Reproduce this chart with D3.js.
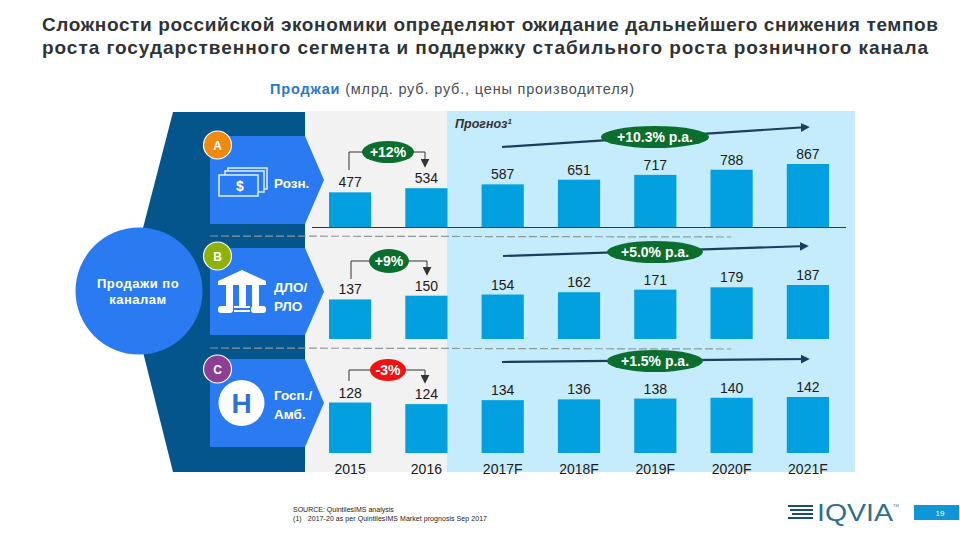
<!DOCTYPE html>
<html>
<head>
<meta charset="utf-8">
<script src="https://cdn.jsdelivr.net/npm/d3@7"></script>
<style>
  html, body { margin: 0; padding: 0; background: #fff; }
  text { font-family: "Liberation Sans", Arial, sans-serif; }
</style>
</head>
<body>
<div id="main"></div>
<script>
const years = ["2015", "2016", "2017F", "2018F", "2019F", "2020F", "2021F"]
const retail = [477, 534, 587, 651, 717, 788, 867]
const dlo = [137, 150, 154, 162, 171, 179, 187]
const hospital = [128, 124, 134, 136, 138, 140, 142]
const titleLines = [
  "Сложности российской экономики определяют ожидание дальнейшего снижения темпов",
  "роста государственного сегмента и поддержку стабильного роста розничного канала"
]
const historyGrowth = ["+12%", "+9%", "-3%"]
const forecastGrowth = ["+10.3% p.a.", "+5.0% p.a.", "+1.5% p.a."]
const channelLetters = ["A", "B", "C"]
const channelLabels = [["Розн."], ["ДЛО/", "РЛО"], ["Госп./", "Амб."]]

const width = 960
const height = 540

const svg = d3.select("#main").append("svg")
  .attr("width", width)
  .attr("height", height)
  .attr("viewBox", `0 0 ${width} ${height}`)
  .style("display", "block")

const blue = "#2a7bf2"
const navy = "#04558c"
const barColor = "#03a0e0"
const pillGreen = "#0c6e2e"
const arrowDark = "#1d3c5e"

svg.append("defs").selectAll("marker")
  .data([["headDark", arrowDark], ["headGrey", "#333"]])
  .join("marker")
  .attr("id", d => d[0])
  .attr("viewBox", "0 0 10 10")
  .attr("refX", 8).attr("refY", 5)
  .attr("markerUnits", "userSpaceOnUse")
  .attr("markerWidth", 9).attr("markerHeight", 9)
  .attr("orient", "auto")
  .append("path")
  .attr("d", "M0,0L10,5L0,10Z")
  .attr("fill", d => d[1])

// TITLE
svg.selectAll("text.title")
  .data(titleLines)
  .join("text")
  .attr("class", "title")
  .attr("x", 42)
  .attr("y", (d, i) => 30.5 + i * 23.5)
  .attr("textLength", (d, i) => i == 0 ? 896 : 886)
  .attr("lengthAdjust", "spacing")
  .attr("font-size", 19)
  .attr("font-weight", "bold")
  .attr("fill", "#2f3336")
  .text(d => d)

const subtitle = svg.append("text")
  .attr("x", 270).attr("y", 94)
  .attr("textLength", 364)
  .attr("font-size", 14.5)
  .attr("fill", "#4a4f55")
subtitle.append("tspan").attr("font-weight", "bold").attr("fill", "#2a78c8").text("Проджаи")
subtitle.append("tspan").text(" (млрд. руб. руб., цены производителя)")

// BACKGROUNDS
svg.append("rect").attr("x", 305).attr("y", 111).attr("width", 142).attr("height", 361).attr("fill", "#f2f2f2")
svg.append("rect").attr("x", 447).attr("y", 111).attr("width", 408).attr("height", 361).attr("fill", "#c4ecfd")

svg.append("path")
  .attr("d", "M173,112L305,112L305,472L173,472L143,352L143,228Z")
  .attr("fill", navy)

svg.append("circle")
  .attr("cx", 139).attr("cy", 291).attr("r", 63.5)
  .attr("fill", blue)

svg.append("text")
  .attr("text-anchor", "middle").attr("fill", "#fff").attr("font-size", 13).attr("font-weight", "bold")
  .attr("letter-spacing", 0.5)
  .selectAll("tspan")
  .data(["Продажи по", "каналам"])
  .join("tspan")
  .attr("x", 138)
  .attr("y", (d, i) => 288 + i * 16)
  .text(d => d)

// CHEVRONS, ONE PER CHANNEL
const panels = [
  { values: retail, base: 227, top: 164, chevTop: 136, chevBottom: 224, badge: 145, badgeColor: "#f0890f", labelY: 188 },
  { values: dlo, base: 339, top: 285, chevTop: 248, chevBottom: 335, badge: 256, badgeColor: "#8fb208", labelY: 292 },
  { values: hospital, base: 453, top: 397, chevTop: 359, chevBottom: 447, badge: 369, badgeColor: "#8c3f94", labelY: 400 }
]

panels.forEach((p, i) => {
  const mid = (p.chevTop + p.chevBottom) / 2
  svg.append("path")
    .attr("d", `M210,${p.chevTop}L305,${p.chevTop}L324,${mid}L305,${p.chevBottom}L210,${p.chevBottom}Z`)
    .attr("fill", blue)
})

// SEPARATORS
svg.selectAll("line.sep")
  .data([236, 348])
  .join("line")
  .attr("class", "sep")
  .attr("x1", 210).attr("x2", 731)
  .attr("y1", d => d).attr("y2", d => d + 1)
  .attr("stroke", "#8d989f")
  .attr("stroke-width", 1.2)
  .attr("stroke-dasharray", "8 3")

// ICONS
const money = svg.append("g").attr("fill", blue).attr("stroke", "#dff1ff").attr("stroke-width", 1.5)
money.selectAll("rect")
  .data([[228, 168], [225, 171], [219, 175]])
  .join("rect")
  .attr("x", d => d[0]).attr("y", d => d[1])
  .attr("width", 39).attr("height", 21)
svg.append("text").attr("x", 240).attr("y", 191).attr("text-anchor", "middle")
  .attr("font-size", 14).attr("font-weight", "bold").attr("fill", "#fff").text("$")

const bank = svg.append("g").attr("fill", "#fff")
bank.append("path").attr("d", "M218,281L242,270L266,281L266,285L218,285Z")
bank.selectAll("rect.col")
  .data([226, 239, 252])
  .join("rect")
  .attr("class", "col")
  .attr("x", d => d).attr("y", 285)
  .attr("width", 7).attr("height", 23)
bank.append("rect").attr("x", 218).attr("y", 306).attr("width", 15).attr("height", 7).attr("rx", 3)
bank.append("rect").attr("x", 251).attr("y", 306).attr("width", 15).attr("height", 7).attr("rx", 3)
bank.append("rect").attr("x", 234).attr("y", 306).attr("width", 16).attr("height", 2)
bank.append("rect").attr("x", 234).attr("y", 310).attr("width", 16).attr("height", 2)

svg.append("circle").attr("cx", 241.5).attr("cy", 403).attr("r", 23).attr("fill", "#fff")
svg.append("text").attr("x", 241.5).attr("y", 413).attr("text-anchor", "middle")
  .attr("font-size", 28).attr("font-weight", "bold").attr("fill", "#2f73d0").text("H")

// BADGES AND CHANNEL LABELS
panels.forEach((p, i) => {
  svg.append("circle")
    .attr("cx", 217.5).attr("cy", p.badge).attr("r", 14)
    .attr("fill", p.badgeColor)
    .attr("stroke", "#fff").attr("stroke-width", 1.2)
  svg.append("text")
    .attr("x", 217.5).attr("y", p.badge + 4.5)
    .attr("text-anchor", "middle").attr("font-size", 12).attr("font-weight", "bold").attr("fill", "#fff")
    .text(channelLetters[i])
  svg.append("text")
    .attr("font-size", 13.5).attr("font-weight", "bold").attr("fill", "#fff")
    .selectAll("tspan")
    .data(channelLabels[i])
    .join("tspan")
    .attr("x", 274)
    .attr("y", (d, j) => p.labelY + j * 19)
    .text(d => d)
})

svg.append("text")
  .attr("x", 455).attr("y", 128)
  .attr("font-size", 12.5).attr("font-weight", "bold").attr("font-style", "italic").attr("fill", "#333")
  .text("Прогноз")
  .append("tspan").attr("dy", -4).attr("font-size", 8).text("1")

// BARS
const x = d3.scaleBand()
  .domain(years)
  .range([329, 829])
  .paddingInner(0.447)
  .paddingOuter(0)

panels.forEach(p => {
  const y = d3.scaleLinear().domain([0, d3.max(p.values)]).range([p.base, p.top])
  const g = svg.append("g")
  g.selectAll("rect")
    .data(p.values)
    .join("rect")
    .attr("x", (d, i) => x(years[i]))
    .attr("y", d => y(d))
    .attr("width", x.bandwidth())
    .attr("height", d => y(0) - y(d))
    .attr("fill", barColor)
  g.selectAll("text")
    .data(p.values)
    .join("text")
    .attr("x", (d, i) => x(years[i]) + x.bandwidth() / 2)
    .attr("y", d => y(d) - 5)
    .attr("text-anchor", "middle")
    .attr("font-size", 14)
    .attr("fill", "#1a1a1a")
    .text(d => d)
})

svg.append("line")
  .attr("x1", 312).attr("x2", 846)
  .attr("y1", 227.5).attr("y2", 227.5)
  .attr("stroke", "#1d3c5e").attr("stroke-width", 1)

// YEAR AXIS
const axis = svg.append("g")
  .attr("transform", "translate(0,461)")
  .call(d3.axisBottom(x).tickSize(0).tickPadding(3))
axis.select(".domain").remove()
axis.selectAll("text").attr("font-size", 14).attr("font-family", null).attr("fill", "#1a1a1a")

// HISTORIC GROWTH BRACKETS
const brackets = [
  { x1: 349, x2: 425, y: 152, from: 170, to: 166, cx: 388, rx: 26, ry: 11, fill: pillGreen },
  { x1: 351, x2: 427, y: 261, from: 279, to: 274, cx: 389, rx: 20, ry: 12, fill: pillGreen },
  { x1: 349, x2: 425, y: 370, from: 381, to: 382, cx: 388, rx: 18, ry: 11, fill: "#ee1212" }
]
brackets.forEach((b, i) => {
  svg.append("path")
    .attr("d", `M${b.x1},${b.from}L${b.x1},${b.y}L${b.x2},${b.y}L${b.x2},${b.to}`)
    .attr("fill", "none").attr("stroke", "#333").attr("stroke-width", 1)
    .attr("marker-end", "url(#headGrey)")
  svg.append("ellipse").attr("cx", b.cx).attr("cy", b.y).attr("rx", b.rx).attr("ry", b.ry).attr("fill", b.fill)
  svg.append("text").attr("x", b.cx).attr("y", b.y + 5)
    .attr("text-anchor", "middle").attr("font-size", 14).attr("font-weight", "bold").attr("fill", "#fff")
    .text(historyGrowth[i])
})

// FORECAST GROWTH ARROWS
const trends = [
  { x1: 502, y1: 147, x2: 808, y2: 127, cx: 655, cy: 137, rx: 54 },
  { x1: 503, y1: 256, x2: 807, y2: 246, cx: 655, cy: 252, rx: 48 },
  { x1: 502, y1: 362, x2: 808, y2: 359, cx: 655, cy: 361, rx: 48 }
]
trends.forEach((t, i) => {
  svg.append("line")
    .attr("x1", t.x1).attr("y1", t.y1).attr("x2", t.x2).attr("y2", t.y2)
    .attr("stroke", arrowDark).attr("stroke-width", 2.2)
    .attr("marker-end", "url(#headDark)")
  svg.append("ellipse").attr("cx", t.cx).attr("cy", t.cy).attr("rx", t.rx).attr("ry", 11).attr("fill", pillGreen)
  svg.append("text").attr("x", t.cx).attr("y", t.cy + 5)
    .attr("text-anchor", "middle").attr("font-size", 14).attr("font-weight", "bold").attr("fill", "#fff")
    .text(forecastGrowth[i])
})

// FOOTER
svg.append("text").attr("x", 293).attr("y", 512).attr("font-size", 7).attr("fill", "#222")
  .text("SOURCE: QuintilesIMS analysis")
svg.append("text").attr("x", 293).attr("y", 521).attr("font-size", 7).attr("fill", "#222")
  .attr("xml:space", "preserve")
  .attr("textLength", 194)
  .text("(1)   2017-20 as per QuintilesIMS Market prognosis Sep 2017")

const logo = svg.append("g")
logo.selectAll("rect")
  .data([505, 509, 513, 517])
  .join("rect")
  .attr("x", (d, i) => 788 + (i % 3) * 2).attr("y", d => d)
  .attr("width", (d, i) => 25 - (i % 3) * 2).attr("height", 2)
  .attr("fill", "#16506e")
svg.append("text").attr("x", 817).attr("y", 521)
  .attr("textLength", 76)
  .attr("lengthAdjust", "spacingAndGlyphs")
  .attr("font-size", 23)
  .attr("fill", "#2f6f8c")
  .text("IQVIA")
svg.append("text").attr("x", 893).attr("y", 507).attr("font-size", 4).attr("fill", "#666").text("TM")

svg.append("rect").attr("x", 914).attr("y", 505).attr("width", 45).attr("height", 15).attr("fill", "#0f96d8")
svg.append("text").attr("x", 940).attr("y", 515.5).attr("text-anchor", "middle")
  .attr("font-size", 8).attr("fill", "#fff").text("19")
</script>
</body>
</html>
